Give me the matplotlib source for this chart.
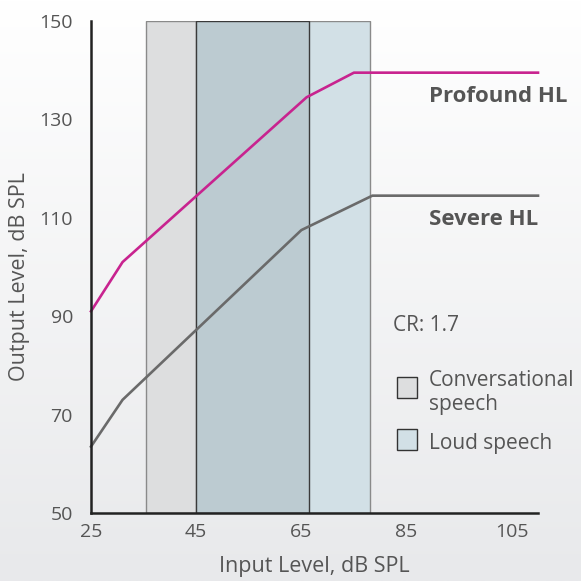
import numpy as np
import matplotlib
matplotlib.use('Agg')
import matplotlib.pyplot as plt
from matplotlib.patches import Rectangle

# ─── data ────────────────────────────────────────────────────────────────
profound_x = [25, 31, 66, 75, 110]
profound_y = [91, 101, 134.5, 139.5, 139.5]
severe_x = [25, 31, 65, 78.5, 110]
severe_y = [63.5, 73, 107.5, 114.5, 114.5]

conv_range = (35.5, 66.5)     # conversational speech, input dB SPL
loud_range = (45, 78)         # loud speech, input dB SPL
x_ticks = [25, 45, 65, 85, 105]
y_ticks = [50, 70, 90, 110, 130, 150]

MAGENTA = '#c8238f'
DARK_GRAY = '#6a6a6a'
TEXT = '#555555'
CONV_FILL = '#dddedf'
LOUD_FILL = '#d2e0e6'
BOTH_FILL = '#bccbd1'

plt.rcParams['font.family'] = ['Open Sans', 'DejaVu Sans']

W = 581
fig = plt.figure(figsize=(5.81, 5.81), dpi=100)

# soft vertical gradient background
bg = fig.add_axes([0, 0, 1, 1], zorder=-10)
grad = np.linspace(0, 1, 256).reshape(-1, 1)
bg.imshow(grad, aspect='auto', cmap=matplotlib.colors.LinearSegmentedColormap.from_list(
    'bg', ['#ffffff', '#e8e9eb']), extent=[0, 1, 0, 1], origin='upper')
bg.axis('off')

ax = fig.add_axes([91 / W, 1 - 513 / W, 447 / W, 492 / W])
ax.set_facecolor('none')
ax.set_xlim(25, 110)
ax.set_ylim(50, 150)

# speech boxes
y0, y1 = 50, 150
ax.add_patch(Rectangle((conv_range[0], y0), conv_range[1] - conv_range[0], y1 - y0,
                       facecolor=CONV_FILL, edgecolor='#8a8a8a', linewidth=1.0, zorder=1))
ax.add_patch(Rectangle((loud_range[0], y0), loud_range[1] - loud_range[0], y1 - y0,
                       facecolor=LOUD_FILL, edgecolor='#8a8a8a', linewidth=1.0, zorder=1))
ov0, ov1 = max(conv_range[0], loud_range[0]), min(conv_range[1], loud_range[1])
ax.add_patch(Rectangle((ov0, y0), ov1 - ov0, y1 - y0,
                       facecolor=BOTH_FILL, edgecolor='#3a3a3a', linewidth=1.0, zorder=2))

# I/O curves
ax.plot(profound_x, profound_y, color=MAGENTA, linewidth=1.9, zorder=4, clip_on=False)
ax.plot(severe_x, severe_y, color=DARK_GRAY, linewidth=1.9, zorder=4, clip_on=False)

for s in ['top', 'right']:
    ax.spines[s].set_visible(False)
for s in ['left', 'bottom']:
    ax.spines[s].set_color('#222222')
    ax.spines[s].set_linewidth(1.8)
    ax.spines[s].set_zorder(5)

ax.set_xticks(x_ticks)
ax.set_yticks(y_ticks)
ax.tick_params(length=0, labelsize=14, colors=TEXT)
ax.tick_params(axis='x', pad=7)
ax.tick_params(axis='y', pad=13)
ax.set_xlabel('Input Level, dB SPL', fontsize=15.5, color=TEXT, labelpad=11)
ax.set_ylabel('Output Level, dB SPL', fontsize=15.5, color=TEXT)
ax.yaxis.set_label_coords(-0.137, 0.48)

# annotations (pixel positions -> figure fraction)
def fx(px):
    return px / W

def fy(py):
    return 1 - py / W

fig.text(fx(429), fy(102), 'Profound HL', fontsize=16, fontweight='bold', color=TEXT)
fig.text(fx(429), fy(225), 'Severe HL', fontsize=16, fontweight='bold', color=TEXT)
fig.text(fx(393), fy(331), 'CR: 1.7', fontsize=15, color=TEXT)

fig.patches.append(Rectangle((fx(397), fy(398)), 20 / W, 21 / W, transform=fig.transFigure,
                             facecolor=CONV_FILL, edgecolor='#333333', linewidth=1.0))
fig.patches.append(Rectangle((fx(397), fy(450)), 20 / W, 21 / W, transform=fig.transFigure,
                             facecolor=LOUD_FILL, edgecolor='#333333', linewidth=1.0))
fig.text(fx(429), fy(386), 'Conversational', fontsize=15, color=TEXT)
fig.text(fx(429), fy(410), 'speech', fontsize=15, color=TEXT)
fig.text(fx(429), fy(449), 'Loud speech', fontsize=15, color=TEXT)

fig.savefig('out.png', dpi=100)
